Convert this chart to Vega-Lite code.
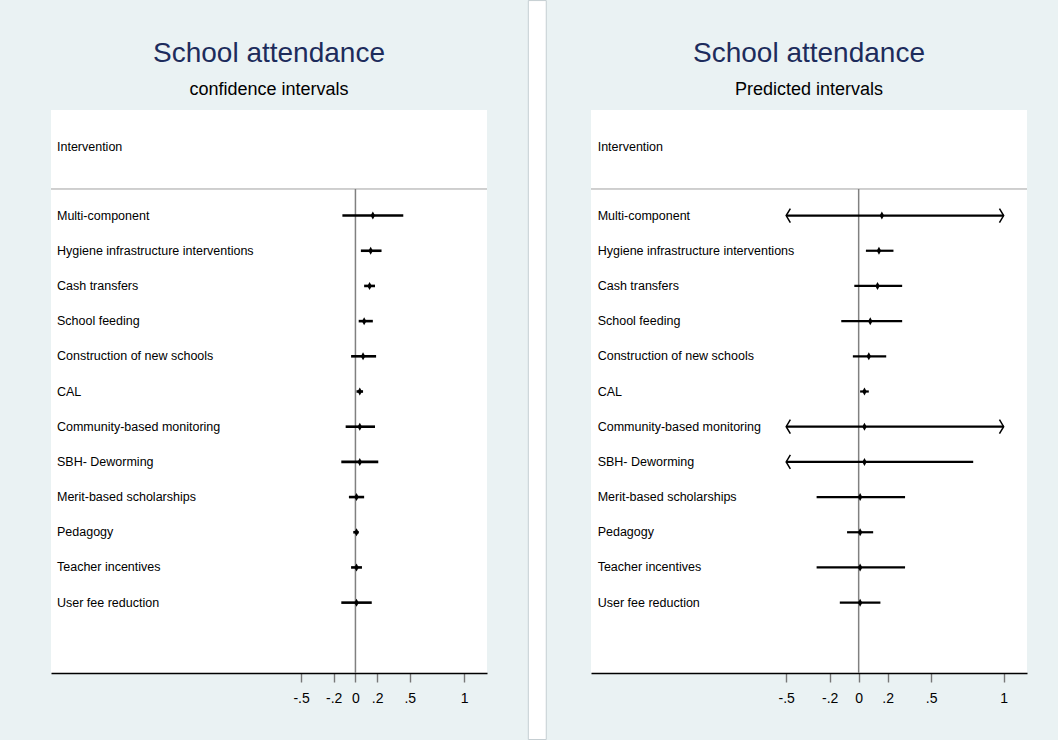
{
  "$schema": "https://vega.github.io/schema/vega-lite/v6.json",
  "background": "#eaf2f3",
  "padding": {"left": 50, "top": 0, "right": 32, "bottom": 0},
  "bounds": "flush",
  "spacing": 104,
  "config": {
    "view": {"stroke": null, "fill": "white"},
    "font": "Liberation Sans",
    "title": {"font": "Liberation Sans", "fontSize": 28, "fontWeight": "normal", "color": "#1d2c5c", "subtitleFont": "Liberation Sans", "subtitleFontSize": 18, "subtitleColor": "black", "anchor": "middle", "frame": "group", "subtitlePadding": 13},
    "axisY": {"disable": true},
    "axisX": {"labelExpr": "datum.value == 0 ? '0' : datum.value == 1 ? '1' : (datum.value < 0 ? '-' : '') + slice(format(abs(datum.value), '.1f'), 1)", "domainColor": "black", "domainWidth": 1.6, "tickColor": "#777777", "tickSize": 9, "tickWidth": 1.4, "labelFont": "Liberation Sans", "labelFontSize": 14, "labelColor": "black", "labelPadding": 9, "grid": false, "labelFlush": false, "labelOverlap": false, "title": null}
  },
  "datasets": {
    "iv": [
      {"label": "Multi-component", "row": 1, "est": 0.16, "ci_lo": -0.12, "ci_hi": 0.44, "pi_lo": -0.5, "pi_hi": 1.0, "pi_lo_arrow": true, "pi_hi_arrow": true},
      {"label": "Hygiene infrastructure interventions", "row": 2, "est": 0.14, "ci_lo": 0.05, "ci_hi": 0.24, "pi_lo": 0.05, "pi_hi": 0.24, "pi_lo_arrow": false, "pi_hi_arrow": false},
      {"label": "Cash transfers", "row": 3, "est": 0.13, "ci_lo": 0.08, "ci_hi": 0.18, "pi_lo": -0.03, "pi_hi": 0.3, "pi_lo_arrow": false, "pi_hi_arrow": false},
      {"label": "School feeding", "row": 4, "est": 0.08, "ci_lo": 0.03, "ci_hi": 0.16, "pi_lo": -0.12, "pi_hi": 0.3, "pi_lo_arrow": false, "pi_hi_arrow": false},
      {"label": "Construction of new schools", "row": 5, "est": 0.07, "ci_lo": -0.04, "ci_hi": 0.19, "pi_lo": -0.04, "pi_hi": 0.19, "pi_lo_arrow": false, "pi_hi_arrow": false},
      {"label": "CAL", "row": 6, "est": 0.04, "ci_lo": 0.01, "ci_hi": 0.07, "pi_lo": 0.01, "pi_hi": 0.07, "pi_lo_arrow": false, "pi_hi_arrow": false},
      {"label": "Community-based monitoring", "row": 7, "est": 0.04, "ci_lo": -0.09, "ci_hi": 0.18, "pi_lo": -0.5, "pi_hi": 1.0, "pi_lo_arrow": true, "pi_hi_arrow": true},
      {"label": "SBH- Deworming", "row": 8, "est": 0.04, "ci_lo": -0.13, "ci_hi": 0.21, "pi_lo": -0.5, "pi_hi": 0.79, "pi_lo_arrow": true, "pi_hi_arrow": false},
      {"label": "Merit-based scholarships", "row": 9, "est": 0.01, "ci_lo": -0.06, "ci_hi": 0.08, "pi_lo": -0.29, "pi_hi": 0.32, "pi_lo_arrow": false, "pi_hi_arrow": false},
      {"label": "Pedagogy", "row": 10, "est": 0.01, "ci_lo": -0.02, "ci_hi": 0.03, "pi_lo": -0.08, "pi_hi": 0.1, "pi_lo_arrow": false, "pi_hi_arrow": false},
      {"label": "Teacher incentives", "row": 11, "est": 0.01, "ci_lo": -0.04, "ci_hi": 0.06, "pi_lo": -0.29, "pi_hi": 0.32, "pi_lo_arrow": false, "pi_hi_arrow": false},
      {"label": "User fee reduction", "row": 12, "est": 0.01, "ci_lo": -0.13, "ci_hi": 0.15, "pi_lo": -0.13, "pi_hi": 0.15, "pi_lo_arrow": false, "pi_hi_arrow": false}
    ]
  },
  "hconcat": [
    {
      "width": 436,
      "height": 563,
      "title": {"text": "School attendance", "subtitle": "confidence intervals", "offset": -99},
      "data": {"name": "iv"},
      "layer": [
        {
          "data": {"values": [{"gap": "panel gap"}]},
          "mark": {"type": "rect", "fill": "white", "stroke": "#c5ced2", "strokeWidth": 1, "clip": false},
          "encoding": {
            "x": {"datum": 1.59, "scale": {"domain": [-2.8, 1.21], "nice": false, "zero": false}},
            "x2": {"datum": 1.755},
            "y": {"datum": -5.11, "scale": {"domain": [-2, 14], "nice": false, "zero": false, "reverse": true}},
            "y2": {"datum": 15.89}
          }
        },
        {
          "data": {"values": [{"header": "Intervention"}]},
          "mark": {"type": "rule", "color": "#a0a0a0", "strokeWidth": 1},
          "encoding": {"y": {"datum": 0.245}}
        },
        {
          "data": {"values": [{"header": "Intervention"}]},
          "mark": {"type": "text", "align": "left", "baseline": "middle", "fontSize": 12.5, "color": "black"},
          "encoding": {"x": {"datum": -2.745}, "y": {"datum": -0.935}, "text": {"field": "header"}}
        },
        {
          "data": {"values": [{"ref": 0}]},
          "mark": {"type": "rule", "color": "#808080", "strokeWidth": 1.5},
          "encoding": {"x": {"field": "ref", "type": "quantitative", "title": null, "axis": {"values": [-0.5, -0.2, 0, 0.2, 0.5, 1]}}, "y": {"datum": 0.245}, "y2": {"datum": 14}}
        },
        {
          "mark": {"type": "rule", "color": "black", "strokeWidth": 2.6},
          "encoding": {
            "x": {"field": "ci_lo", "type": "quantitative", "title": null, "axis": {"values": [-0.5, -0.2, 0, 0.2, 0.5, 1]}},
            "x2": {"field": "ci_hi"},
            "y": {"field": "row", "type": "quantitative", "axis": null}
          }
        },
        {
          "mark": {"type": "point", "shape": "M0,-1L0.55,0L0,1L-0.55,0Z", "filled": true, "color": "black", "size": 64, "opacity": 1},
          "encoding": {
            "x": {"field": "est", "type": "quantitative", "title": null, "axis": {"values": [-0.5, -0.2, 0, 0.2, 0.5, 1]}},
            "y": {"field": "row", "type": "quantitative", "axis": null}
          }
        },
        {
          "mark": {"type": "text", "align": "left", "baseline": "middle", "fontSize": 12.5, "color": "black"},
          "encoding": {
            "x": {"datum": -2.745},
            "y": {"field": "row", "type": "quantitative", "axis": null},
            "text": {"field": "label"}
          }
        }
      ]
    },
    {
      "width": 436,
      "height": 563,
      "title": {"text": "School attendance", "subtitle": "Predicted intervals", "offset": 11},
      "data": {"name": "iv"},
      "layer": [
        {
          "data": {"values": [{"header": "Intervention"}]},
          "mark": {"type": "rule", "color": "#a0a0a0", "strokeWidth": 1},
          "encoding": {"y": {"datum": 0.245, "scale": {"domain": [-2, 14], "nice": false, "zero": false, "reverse": true}}}
        },
        {
          "data": {"values": [{"header": "Intervention"}]},
          "mark": {"type": "text", "align": "left", "baseline": "middle", "fontSize": 12.5, "color": "black"},
          "encoding": {"x": {"datum": -1.8, "scale": {"domain": [-1.846, 1.161], "nice": false, "zero": false}}, "y": {"datum": -0.935}, "text": {"field": "header"}}
        },
        {
          "data": {"values": [{"ref": 0}]},
          "mark": {"type": "rule", "color": "#808080", "strokeWidth": 1.5},
          "encoding": {"x": {"field": "ref", "type": "quantitative", "title": null, "axis": {"values": [-0.5, -0.2, 0, 0.2, 0.5, 1]}}, "y": {"datum": 0.245}, "y2": {"datum": 14}}
        },
        {
          "mark": {"type": "rule", "color": "black", "strokeWidth": 2.2},
          "encoding": {
            "x": {"field": "pi_lo", "type": "quantitative", "title": null, "axis": {"values": [-0.5, -0.2, 0, 0.2, 0.5, 1]}},
            "x2": {"field": "pi_hi"},
            "y": {"field": "row", "type": "quantitative", "axis": null}
          }
        },
        {
          "transform": [{"filter": "datum.pi_lo_arrow"}],
          "mark": {"type": "point", "shape": "M0.6,-1L0,0L0.6,1", "filled": false, "color": "black", "strokeWidth": 1.5, "size": 196, "opacity": 1},
          "encoding": {
            "x": {"field": "pi_lo", "type": "quantitative", "title": null, "axis": {"values": [-0.5, -0.2, 0, 0.2, 0.5, 1]}},
            "y": {"field": "row", "type": "quantitative", "axis": null}
          }
        },
        {
          "transform": [{"filter": "datum.pi_hi_arrow"}],
          "mark": {"type": "point", "shape": "M-0.6,-1L0,0L-0.6,1", "filled": false, "color": "black", "strokeWidth": 1.5, "size": 196, "opacity": 1},
          "encoding": {
            "x": {"field": "pi_hi", "type": "quantitative", "title": null, "axis": {"values": [-0.5, -0.2, 0, 0.2, 0.5, 1]}},
            "y": {"field": "row", "type": "quantitative", "axis": null}
          }
        },
        {
          "mark": {"type": "point", "shape": "M0,-1L0.55,0L0,1L-0.55,0Z", "filled": true, "color": "black", "size": 64, "opacity": 1},
          "encoding": {
            "x": {"field": "est", "type": "quantitative", "title": null, "axis": {"values": [-0.5, -0.2, 0, 0.2, 0.5, 1]}},
            "y": {"field": "row", "type": "quantitative", "axis": null}
          }
        },
        {
          "mark": {"type": "text", "align": "left", "baseline": "middle", "fontSize": 12.5, "color": "black"},
          "encoding": {
            "x": {"datum": -1.8},
            "y": {"field": "row", "type": "quantitative", "axis": null},
            "text": {"field": "label"}
          }
        }
      ]
    }
  ]
}
